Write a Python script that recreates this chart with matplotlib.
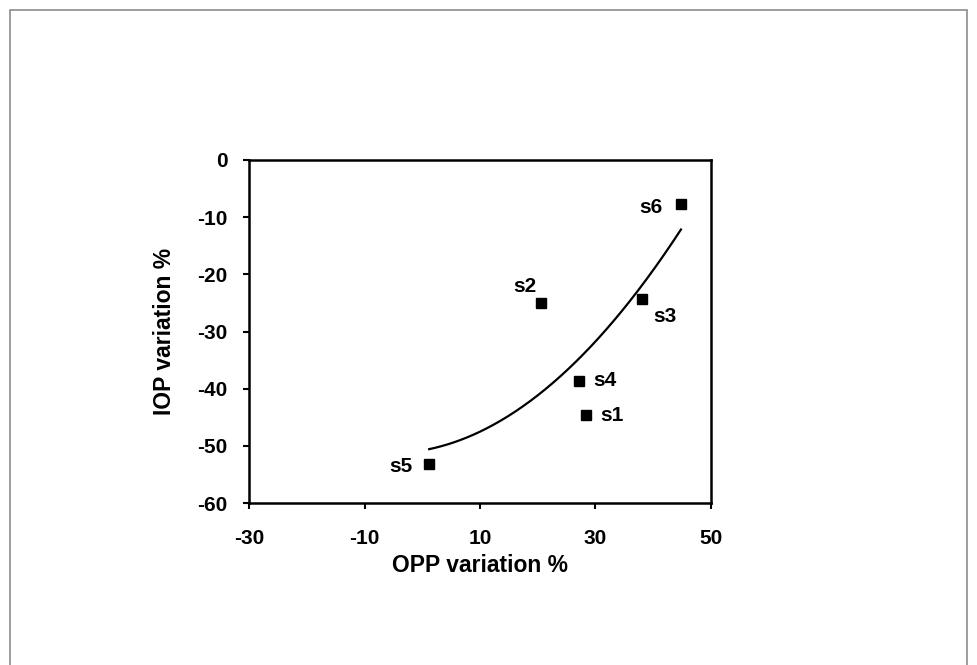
import numpy as np
import matplotlib
matplotlib.use("Agg")
import matplotlib.pyplot as plt
from matplotlib.patches import Rectangle

# sample labels and values
samples = ["s1", "s2", "s3", "s4", "s5", "s6"]
opp = [28.4, 20.5, 38.1, 27.2, 1.2, 44.8]
iop = [-44.6, -25.0, -24.4, -38.6, -53.2, -7.7]

xticks = [-30, -10, 10, 30, 50]
yticks = [-60, -50, -40, -30, -20, -10, 0]

plt.rcParams['font.family'] = ['Liberation Sans', 'DejaVu Sans']
plt.rcParams['font.weight'] = 'bold'
plt.rcParams['axes.unicode_minus'] = False

fig = plt.figure(figsize=(9.77, 6.65), dpi=100)
ax = fig.add_axes([0.2549, 0.2436, 0.4728, 0.5158])

# gray frame around the chart area
fig.patches.append(Rectangle((10 / 977, -0.05), 957 / 977, 1 - 10 / 665 + 0.05,
                             transform=fig.transFigure, fill=False,
                             edgecolor="#8c8c8c", linewidth=1.2))

ax.plot(opp, iop, linestyle="none", marker="s", markersize=7, color="black")

# quadratic trend line over the data range
coef = np.polyfit(opp, iop, 2)
xs = np.linspace(min(opp), max(opp), 200)
ax.plot(xs, np.polyval(coef, xs), color="black", linewidth=1.6)

# point labels: offset in points, alignment
offsets = {"s1": (10, -4, "left"),
           "s2": (-3, 8, "right"),
           "s3": (8, -16, "left"),
           "s4": (10, -4, "left"),
           "s5": (-12, -6, "right"),
           "s6": (-13, -6.5, "right")}
for name, x, y in zip(samples, opp, iop):
    dx, dy, ha = offsets[name]
    ax.annotate(name, (x, y), xytext=(dx, dy), textcoords="offset points",
                ha=ha, va="baseline", fontsize=15, fontweight="bold")

ax.set_xlim(-30, 50)
ax.set_ylim(-60, 0)
ax.set_xticks(xticks)
ax.set_yticks(yticks)
ax.tick_params(direction="out", length=4.5, width=1.5, labelsize=15)
ax.tick_params(axis="x", pad=14)
ax.tick_params(axis="y", pad=11)
for sp in ax.spines.values():
    sp.set_linewidth(1.8)

ax.set_xlabel("OPP variation %", fontsize=16.5, fontweight="bold", labelpad=4.5)
ax.set_ylabel("IOP variation %", fontsize=16.5, fontweight="bold", labelpad=15)

fig.savefig("out.png", dpi=100)
